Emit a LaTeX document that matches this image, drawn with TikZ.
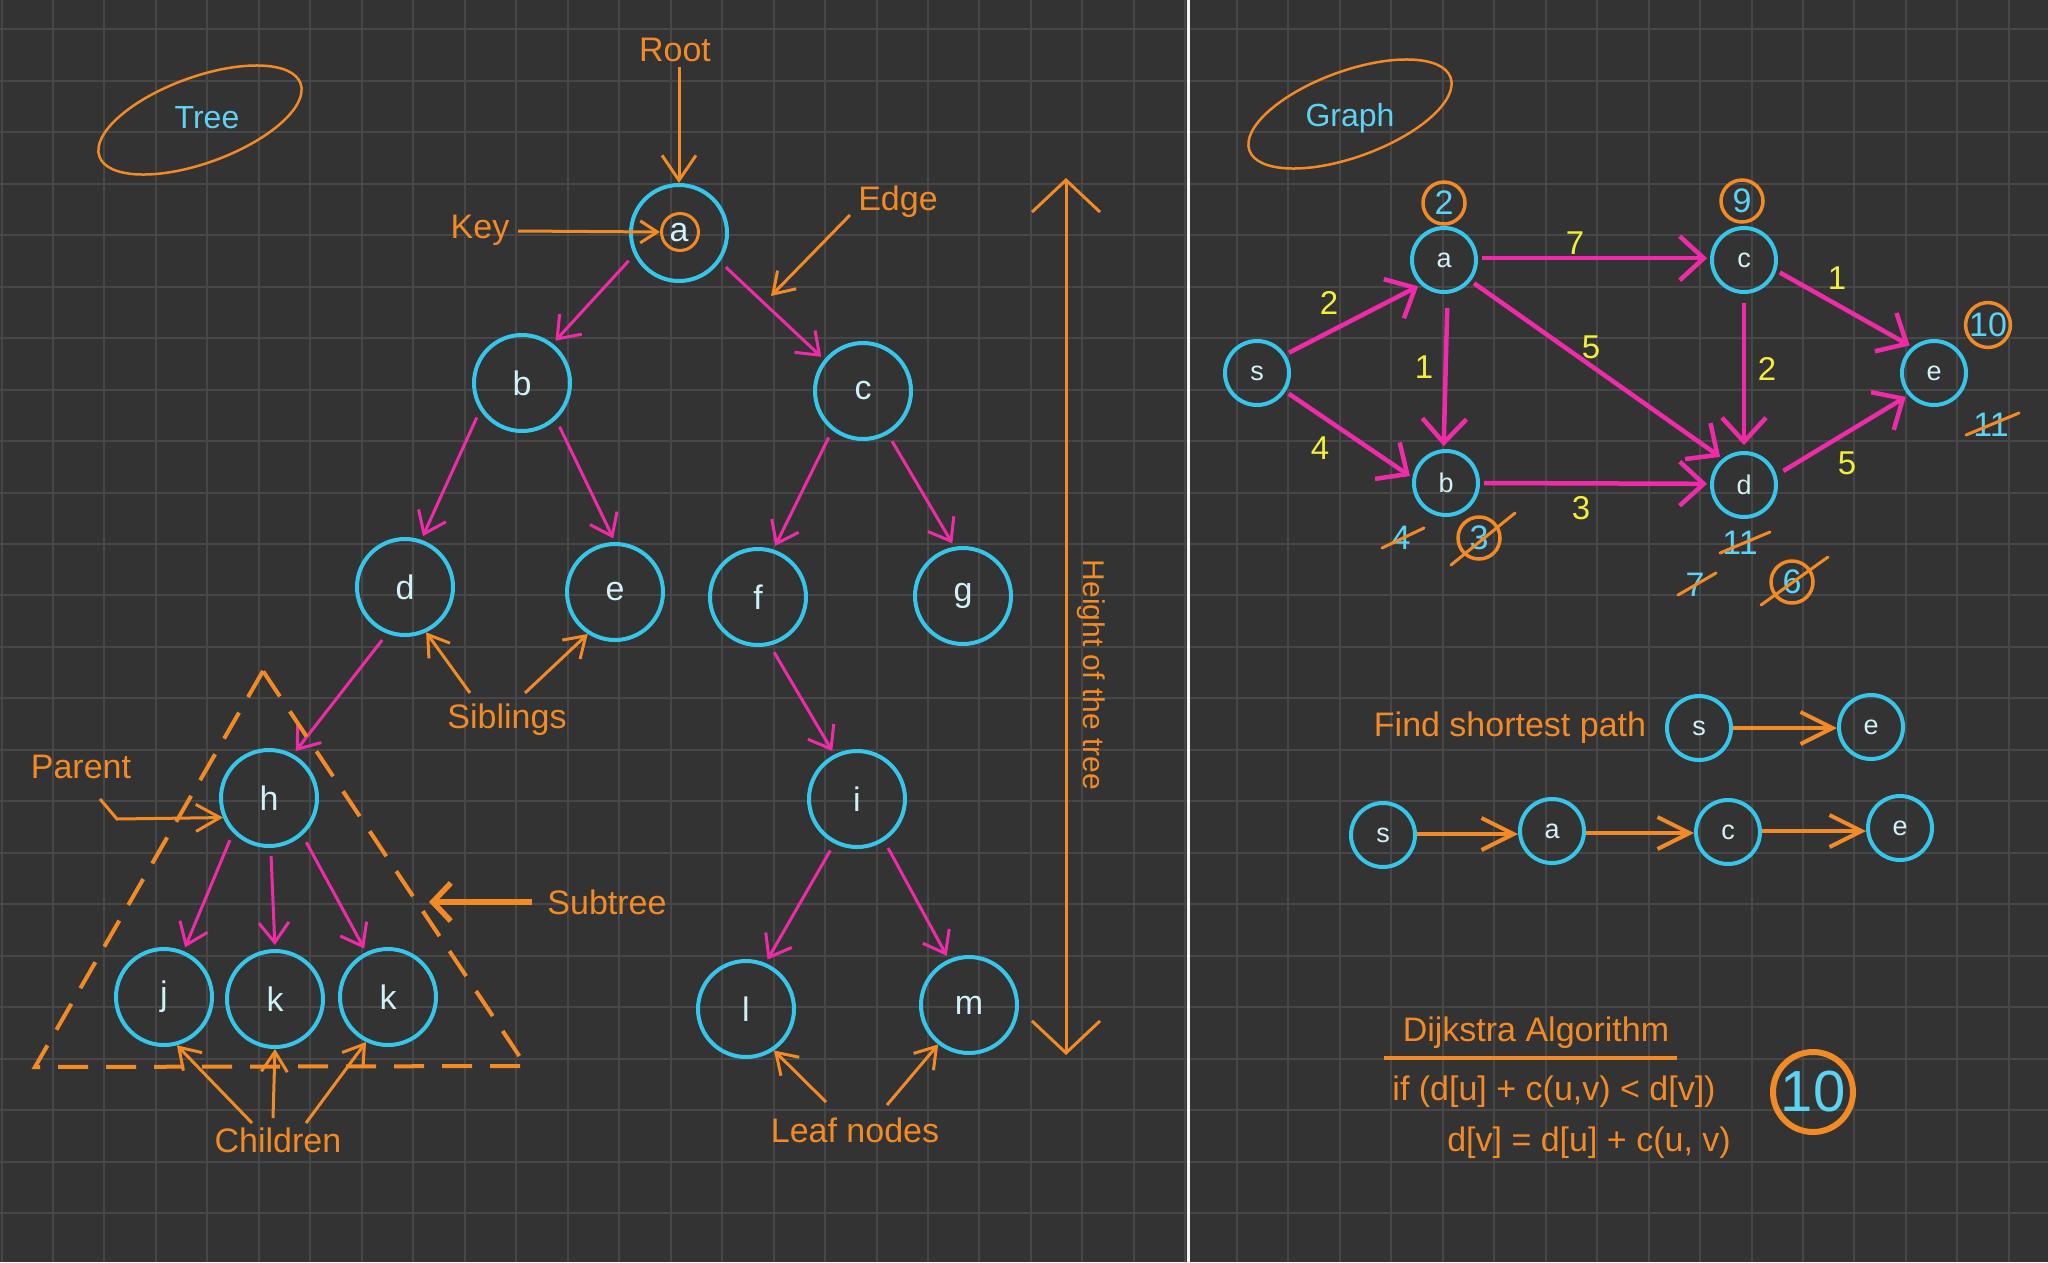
\documentclass[tikz,border=0pt]{standalone}
\usepackage{fontspec}
\setmainfont{Liberation Sans}
\usetikzlibrary{arrows.meta,shapes.geometric}
\definecolor{bgc}{HTML}{333333}
\definecolor{gridc}{HTML}{474747}
\definecolor{cyanc}{HTML}{35C6EA}
\definecolor{ntext}{HTML}{D2F0F8}
\definecolor{digc}{HTML}{5CD3F2}
\definecolor{magc}{HTML}{F02BA9}
\definecolor{orc}{HTML}{F28A26}
\definecolor{yelc}{HTML}{F2EE3A}
\newcommand\myfs[1]{\fontsize{#1}{#1}\selectfont}
\begin{document}
\begin{tikzpicture}[x=1pt,y=-1pt,
  gridline/.style={draw=gridc, line width=2pt},
  tnode/.style={circle, draw=cyanc, line width=4pt, minimum size=96pt, inner sep=0pt, text=ntext, font=\myfs{34}},
  gnode/.style={circle, draw=cyanc, line width=4pt, minimum size=64pt, inner sep=0pt, text=ntext, font=\myfs{27}},
  lbl/.style={text=orc, font=\myfs{34}, inner sep=0pt},
  tedge/.style={draw=magc, line width=3pt, -{Straight Barb[length=20pt,width=30pt]}, shorten <=8pt, shorten >=4pt},
  gedge/.style={draw=magc, line width=4.5pt, -{Straight Barb[length=24pt,width=44pt]}, shorten <=4pt, shorten >=3pt},
  annot/.style={draw=orc, line width=3pt, -{Straight Barb[length=20pt,width=26pt]}},
  patharr/.style={draw=orc, line width=4pt, -{Straight Barb[length=32pt,width=32pt]}},
  wt/.style={text=yelc, font=\myfs{33}, inner sep=0pt},
  dig/.style={text=digc, font=\myfs{34}, inner sep=0pt},
  dcirc/.style={circle, draw=orc, line width=3.5pt, minimum size=42pt, inner sep=0pt, text=digc, font=\myfs{34}},
  slash/.style={draw=orc, line width=3pt, line cap=round},
  titell/.style={draw=orc, line width=2.5pt, ellipse, rotate=20, minimum width=214pt, minimum height=86pt, inner sep=0pt}
]
% background and grid
\fill[bgc] (0,0) rectangle (2048,1262);
\useasboundingbox (0,0) rectangle (2048,1262);
\foreach \k in {0,...,39} \draw[gridline] ({1.5+51.47*\k},0) -- ({1.5+51.47*\k},1262);
\foreach \k in {0,...,23} \draw[gridline] (0,{29.3+51.47*\k}) -- (2048,{29.3+51.47*\k});
\draw[draw=white!92!gray, line width=3pt] (1188,0) -- (1188,1262);

% ================= TREE =================
\node[titell] (treeell) at (200,120) {};
\node[text=digc, font=\myfs{32}, inner sep=0pt] (treelbl) at (207,118) {Tree};

\node[tnode] (a) at (679,233) {a};
\node[tnode] (b) at (522,383) {b};
\node[tnode] (c) at (863,391) {c};
\node[tnode] (d) at (405,587) {d};
\node[tnode] (e) at (615,592) {e};
\node[tnode] (f) at (758,597) {f};
\node[tnode] (g) at (963,596) {g};
\node[tnode] (h) at (269,798) {h};
\node[tnode] (i) at (857,799) {i};
\node[tnode] (j) at (164,997) {j};
\node[tnode] (k1) at (275,999) {k};
\node[tnode] (k2) at (388,997) {k};
\node[tnode] (l) at (746,1009) {l};
\node[tnode] (m) at (969,1005) {m};
\node[circle, draw=orc, line width=3pt, minimum size=37pt, inner sep=0pt] (keyc) at (680,232) {};

\draw[tedge] (a.206) -- (b.52);
\draw[tedge] (a.325) -- (c.141);
\draw[tedge] (b.213) -- (d.71);
\draw[tedge] (b.313) -- (e.90);
\draw[tedge] (c.232) -- (f.72);
\draw[tedge] (c.300) -- (g.100);
\draw[tedge] (d.249) -- (h.61);
\draw[tedge] (f.284) -- (i.117);
\draw[tedge] (h.224) -- (j.67);
\draw[tedge] (h.272) -- (k1.90);
\draw[tedge] (h.312) -- (k2.116);
\draw[tedge] (i.243) -- (l.67);
\draw[tedge] (i.303) -- (m.114);

% labels
\node[lbl] (roottxt) at (675,50) {Root};
\node[lbl] (keytxt) at (480,230) {Key};
\node[lbl] (edgetxt) at (898,202) {Edge};
\node[lbl] (sibtxt) at (507,720) {Siblings};
\node[lbl] (partxt) at (81,767) {Parent};
\node[lbl] (subtxt) at (607,902) {Subtree};
\node[lbl] (chtxt) at (278,1140) {Children};
\node[lbl] (leaftxt) at (855,1130) {Leaf nodes};

\coordinate (rootfrom) at (679,67);
\draw[annot, -{Straight Barb[length=25pt,width=34pt]}] (rootfrom) -- (a.north);
\coordinate (keyfrom) at (518,231);
\draw[annot, -{Straight Barb[length=17pt,width=22pt]}] (keyfrom) -- (keyc.west);
\coordinate (edgefrom) at (850,215);
\coordinate (edgeto) at (771,296);
\draw[annot, -{Straight Barb[length=20pt,width=26pt]}] (edgefrom) -- (edgeto);
\coordinate (sibL) at (470,693);
\coordinate (sibR) at (525,693);
\draw[annot] (sibL) -- (d.295);
\draw[annot] (sibR) -- (e.237);
\coordinate (par1) at (100,799);
\coordinate (par2) at (117,819);
\draw[annot, -{Straight Barb[length=24pt,width=27pt]}] (par1) -- (par2) -- (h.203);
\coordinate (chL) at (252,1123);
\coordinate (chM) at (273,1118);
\coordinate (chR) at (306,1123);
\draw[annot] (chL) -- (j.285);
\draw[annot] (chM) -- (k1.270);
\draw[annot] (chR) -- (k2.244);
\coordinate (lfL) at (826,1102);
\coordinate (lfR) at (887,1105);
\draw[annot] (lfL) -- (l.304);
\draw[annot] (lfR) -- (m.232);

% subtree triangle
\draw[orc, line width=4pt, dash pattern=on 30pt off 18pt] (263,671) -- (35,1067) -- (526,1066) -- cycle;
\coordinate (subfrom) at (532,902);
\coordinate (subto) at (429,902);
\draw[draw=orc, line width=5.5pt, -{Straight Barb[length=18pt,width=38pt]}] (subfrom) -- (subto);

% height of tree
\coordinate (htop) at (1066,178);
\coordinate (hbot) at (1066,1055);
\draw[draw=orc, line width=3pt, {Straight Barb[length=32pt,width=68pt]}-{Straight Barb[length=32pt,width=68pt]}] (htop) -- (hbot);
\node[lbl, font=\myfs{30}, rotate=-90] (htxt) at (1091,675) {Height of the tree};

% ================= GRAPH =================
\node[titell] (graphell) at (1350,114) {};
\node[text=digc, font=\myfs{32}, inner sep=0pt] (graphlbl) at (1350,118) {Graph};

\node[gnode] (s) at (1257,373) {s};
\node[gnode] (ga) at (1444,260) {a};
\node[gnode] (gb) at (1446,483) {b};
\node[gnode] (gc) at (1744,260) {c};
\node[gnode] (gd) at (1744,485) {d};
\node[gnode] (ge) at (1934,373) {e};

\draw[gedge] (s.33) -- (ga.227);
\draw[gedge] (s.327) -- (gb.171);
\draw[gedge, shorten <=14pt] (ga.276) -- (gb.94);
\draw[gedge] (ga.3) -- (gc.177);
\draw[gedge] (ga.322) -- (gd.129);
\draw[gedge] (gb.0) -- (gd.178);
\draw[gedge, shorten <=9pt, shorten >=6pt] (gc.270) -- (gd.90);
\draw[gedge] (gc.342) -- (ge.130);
\draw[gedge, shorten <=8pt] (gd.17) -- (ge.221);

\node[wt] (w1) at (1329,303) {2};
\node[wt] (w2) at (1320,448) {4};
\node[wt] (w3) at (1424,367) {1};
\node[wt] (w4) at (1575,243) {7};
\node[wt] (w5) at (1591,347) {5};
\node[wt] (w6) at (1581,508) {3};
\node[wt] (w7) at (1767,369) {2};
\node[wt] (w8) at (1837,278) {1};
\node[wt] (w9) at (1847,463) {5};

% distances
\node[dcirc] (c2) at (1444,203) {2};
\node[dcirc] (c9) at (1742,201) {9};
\node[dcirc] (c10) at (1988,325) {10};
\node[dcirc] (c3) at (1479,538) {3};
\node[dcirc] (c6) at (1792,582) {6};
\node[dig] (n4) at (1401,538) {4};
\node[dig] (n11a) at (1740,543) {11};
\node[dig] (n7) at (1695,585) {7};
\node[dig] (n11b) at (1991,425) {11};
\draw[slash] ([shift={(-19,10)}]n4.center) -- ([shift={(23,-10)}]n4.center);
\draw[slash] ([shift={(-28,27)}]c3.center) -- ([shift={(36,-25)}]c3.center);
\draw[slash] ([shift={(-20,10)}]n11a.center) -- ([shift={(30,-11)}]n11a.center);
\draw[slash] ([shift={(-17,10)}]n7.center) -- ([shift={(21,-12)}]n7.center);
\draw[slash] ([shift={(-31,23)}]c6.center) -- ([shift={(36,-25)}]c6.center);
\draw[slash] ([shift={(-25,10)}]n11b.center) -- ([shift={(28,-12)}]n11b.center);

% shortest path
\node[lbl] (fsptxt) at (1510,728) {Find shortest path};
\node[gnode] (fs) at (1699,728) {s};
\node[gnode] (fe) at (1871,727) {e};
\draw[patharr] (fs.east) -- (fs.east -| fe.west);

\node[gnode] (ps) at (1383,835) {s};
\node[gnode] (pa) at (1552,831) {a};
\node[gnode] (pc) at (1728,832) {c};
\node[gnode] (pe) at (1900,828) {e};
\draw[patharr] (ps.east) ++(0,-1) -- ([yshift=1pt]ps.east -| pa.west);
\draw[patharr] (pa.east) ++(0,2) -- ([yshift=-2pt]pa.east -| pc.west);
\draw[patharr] (pc.east) ++(0,-1) -- ([yshift=1pt]pc.east -| pe.west);

% Dijkstra
\node[lbl] (dijtxt) at (1536,1033) {Dijkstra Algorithm};
\coordinate (ul1) at (1384,1058);
\coordinate (ul2) at (1677,1058);
\draw[draw=orc, line width=3.5pt] (ul1) -- (ul2);
\node[lbl] (iftxt) at (1554,1092) {if (d[u] + c(u,v) < d[v])};
\node[lbl] (asgtxt) at (1589,1143) {d[v] = d[u] + c(u, v)};
\node[circle, draw=orc, line width=6pt, minimum size=80pt, inner sep=0pt, text=digc, font=\myfs{58}] (big10) at (1813,1092) {10};
\end{tikzpicture}
\end{document}
